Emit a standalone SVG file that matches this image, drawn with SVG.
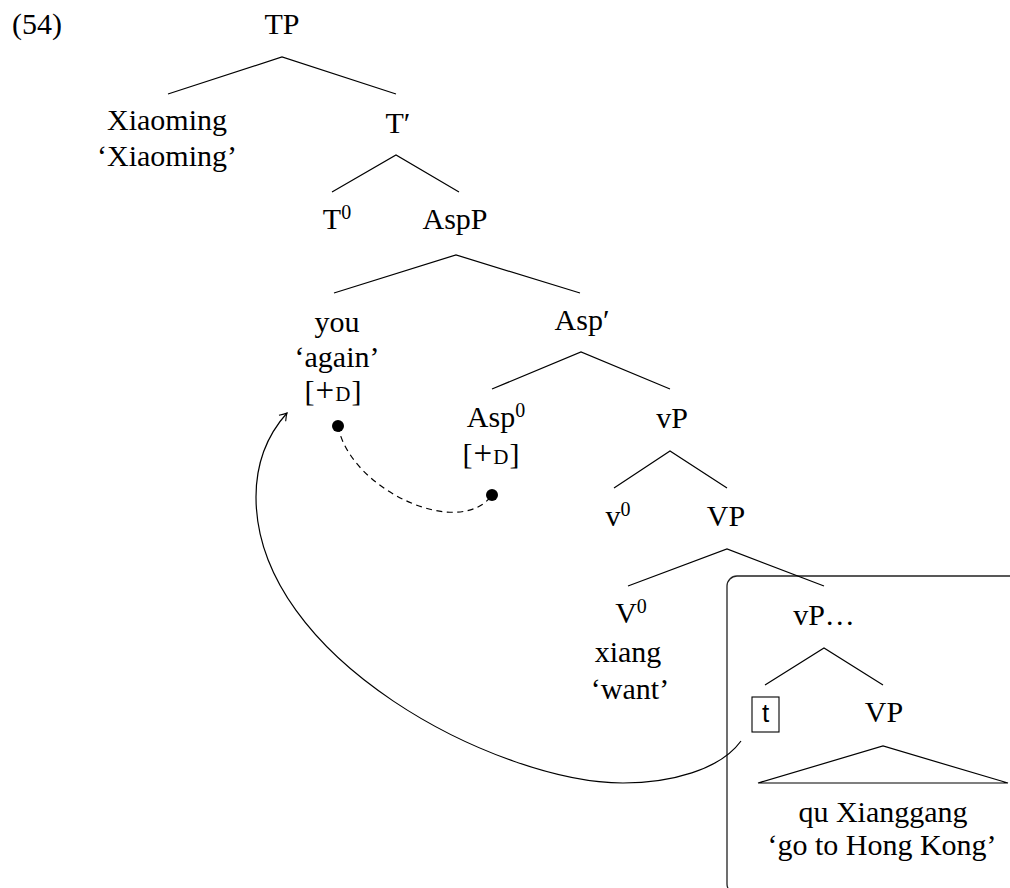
<svg xmlns="http://www.w3.org/2000/svg" width="1010" height="888" viewBox="0 0 1010 888">
<defs>
<style>
text{font-family:"Liberation Serif","Times New Roman",serif;font-size:30px;fill:#000;text-anchor:middle}
.edge{stroke:#000;stroke-width:1.2;fill:none}
.sup{font-size:20px}
.sc{font-size:21px}
.pl{font-size:33px}
.sans{font-family:"Liberation Sans",Arial,sans-serif;font-size:26px}
</style>
<marker id="arr" markerWidth="12" markerHeight="12" refX="0" refY="0" viewBox="-8 -6 10 12" orient="auto" markerUnits="userSpaceOnUse">
<path d="M-7,-4.5 Q-2.5,-1 0,0 Q-2.5,1 -7,4.5" fill="none" stroke="#000" stroke-width="1.1"/>
</marker>
</defs>
<rect width="1010" height="888" fill="#fff"/>
<text x="12" y="34" style="text-anchor:start">(54)</text>

<g id="box">
<rect x="727" y="576" width="320" height="318" rx="10" ry="10" fill="none" stroke="#222" stroke-width="1.3"/>
</g>

<g id="connectors">
<path class="edge" d="M168,94 L282,57 L396,94"/>
<path class="edge" d="M332,192 L396,155 L459,192"/>
<path class="edge" d="M334,293 L456,255 L580,293"/>
<path class="edge" d="M492,389 L581,352 L670,389"/>
<path class="edge" d="M614,488 L670,451 L727,488"/>
<path class="edge" d="M628,586 L727,549 L824,586"/>
<path class="edge" d="M765,685 L824,648 L883,685"/>
<path class="edge" d="M758,783 L883,746 L1008,783 Z"/>
<circle cx="338" cy="426" r="6" fill="#000"/>
<circle cx="492" cy="495" r="6" fill="#000"/>
<path class="edge" d="M338,426 C350,490 460,540 492,495" stroke-dasharray="6,4.5"/>
<path class="edge" d="M741,741 C720,770 670,783 623,783 C500,783 256,660 256,497 C256,460 270,432 287,413" marker-end="url(#arr)"/>
</g>

<g id="n-TP"><text x="282" y="34">TP</text></g>
<g id="n-Xiaoming"><text x="167" y="130">Xiaoming</text><text x="167" y="166">‘Xiaoming’</text></g>
<g id="n-Tbar"><text x="398" y="133">T′</text></g>
<g id="n-T0"><text x="337" y="229">T<tspan class="sup" dy="-10">0</tspan></text></g>
<g id="n-AspP"><text x="455" y="229">AspP</text></g>
<g id="n-you"><text x="337" y="332">you</text><text x="337" y="367">‘again’</text><text x="333" y="401">[<tspan class="pl" dx="1">+</tspan><tspan class="sc" dx="1">D</tspan><tspan dx="1">]</tspan></text></g>
<g id="n-Aspbar"><text x="582" y="330">Asp′</text></g>
<g id="n-Asp0"><text x="496" y="427">Asp<tspan class="sup" dy="-10">0</tspan></text><text x="491" y="464">[<tspan class="pl" dx="1">+</tspan><tspan class="sc" dx="1">D</tspan><tspan dx="1">]</tspan></text></g>
<g id="n-vP"><text x="672" y="428">vP</text></g>
<g id="n-v0"><text x="618" y="526">v<tspan class="sup" dy="-10">0</tspan></text></g>
<g id="n-VP"><text x="726" y="526">VP</text></g>
<g id="n-V0"><text x="631" y="623">V<tspan class="sup" dy="-10">0</tspan></text><text x="628" y="662">xiang</text><text x="630" y="699">‘want’</text></g>
<g id="n-vP2"><text x="824" y="625">vP…</text></g>
<g id="n-t"><rect x="752" y="697" width="27" height="35" fill="none" stroke="#000" stroke-width="1.1"/><text class="sans" x="765.5" y="722">t</text></g>
<g id="n-VP2"><text x="884" y="722">VP</text></g>
<g id="n-quXianggang"><text x="883" y="822">qu Xianggang</text><text x="882" y="855">‘go to Hong Kong’</text></g>
</svg>
